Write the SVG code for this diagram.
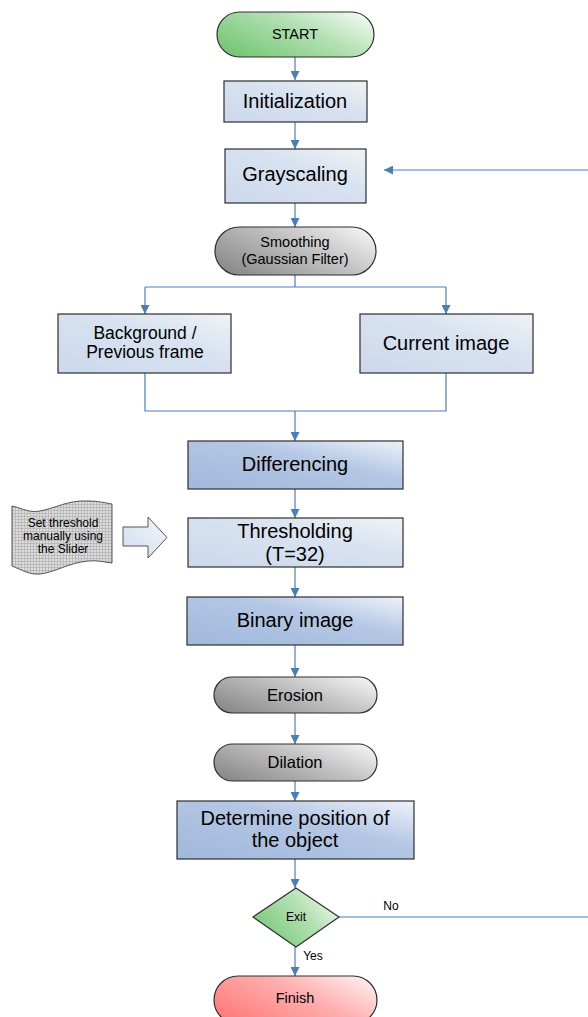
<svg xmlns="http://www.w3.org/2000/svg" width="588" height="1017" viewBox="0 0 588 1017">
<defs>
<linearGradient id="gLight" x1="0" y1="1" x2="1" y2="0">
<stop offset="0" stop-color="#ccd9ec"/><stop offset="0.6" stop-color="#d8e2f0"/><stop offset="1" stop-color="#f0f3f4"/>
</linearGradient>
<linearGradient id="gDark" x1="0" y1="1" x2="1" y2="0">
<stop offset="0" stop-color="#a0b8dc"/><stop offset="0.6" stop-color="#b4c7e4"/><stop offset="1" stop-color="#eef2fa"/>
</linearGradient>
<linearGradient id="gGray" x1="0" y1="0.8" x2="1" y2="0.2">
<stop offset="0" stop-color="#8a8a8a"/><stop offset="0.6" stop-color="#c4c4c4"/><stop offset="1" stop-color="#f0f0f0"/>
</linearGradient>
<linearGradient id="gGreen" x1="0" y1="0.8" x2="1" y2="0.2">
<stop offset="0" stop-color="#74c674"/><stop offset="0.6" stop-color="#b4e0b4"/><stop offset="1" stop-color="#eef8ee"/>
</linearGradient>
<linearGradient id="gRed" x1="0" y1="0.8" x2="1" y2="0.2">
<stop offset="0" stop-color="#ff7878"/><stop offset="0.6" stop-color="#ffb0b0"/><stop offset="1" stop-color="#ffeaea"/>
</linearGradient>
<linearGradient id="gArrow" x1="0" y1="1" x2="1" y2="0">
<stop offset="0" stop-color="#d2ddee"/><stop offset="1" stop-color="#f2f5fa"/>
</linearGradient>
<pattern id="grid" width="3" height="3" patternUnits="userSpaceOnUse">
<rect width="3" height="3" fill="#dcdcdc"/>
<path d="M0 0.5H3M0.5 0V3" stroke="#b4b4b4" stroke-width="0.8"/>
</pattern>
<marker id="arr" viewBox="0 0 10 10" refX="10" refY="5" markerWidth="9" markerHeight="9" markerUnits="userSpaceOnUse" orient="auto">
<path d="M0 0L10 5L0 10Z" fill="#4a7ebb"/>
</marker>
<style>
.box{stroke:#2e2e2e;stroke-width:1.2}
.light{fill:url(#gLight)}
.dark{fill:url(#gDark)}
.gray{fill:url(#gGray)}
.t{font-family:"Liberation Sans",Arial,sans-serif;fill:#000;text-anchor:middle;dominant-baseline:central}
.big{font-size:20px}
.mid{font-size:17.5px}
.pill{font-size:16.5px}
.sm{font-size:14.5px}
.xs{font-size:12px}
.c{fill:none;stroke:#4a7ebb;stroke-width:1.2}
</style>
</defs>

<g id="connectors">
<path class="c" d="M295 57V80" marker-end="url(#arr)"/>
<path class="c" d="M295 122V149" marker-end="url(#arr)"/>
<path class="c" d="M295 203V227" marker-end="url(#arr)"/>
<path class="c" d="M295 275V287"/>
<path class="c" d="M145 287H446"/>
<path class="c" d="M145 287V314" marker-end="url(#arr)"/>
<path class="c" d="M446 287V314" marker-end="url(#arr)"/>
<path class="c" d="M145 373V411H446V373"/>
<path class="c" d="M295 411V441" marker-end="url(#arr)"/>
<path class="c" d="M295 489V518" marker-end="url(#arr)"/>
<path class="c" d="M295 567V597" marker-end="url(#arr)"/>
<path class="c" d="M295 645V677" marker-end="url(#arr)"/>
<path class="c" d="M295 713V744" marker-end="url(#arr)"/>
<path class="c" d="M295 781V801" marker-end="url(#arr)"/>
<path class="c" d="M295 859V888" marker-end="url(#arr)"/>
<path class="c" d="M295 947V976" marker-end="url(#arr)"/>
<path class="c" d="M339 917H588"/>
<path class="c" d="M588 170H384" marker-end="url(#arr)"/>
<text class="t xs" x="391" y="906">No</text>
<text class="t xs" x="313" y="956">Yes</text>
</g>

<g id="start">
<rect class="box" x="217" y="12" width="157" height="45" rx="22.5" fill="url(#gGreen)"/>
<text class="t sm" x="295" y="34">START</text>
</g>

<g id="initialization">
<rect class="box light" x="224" y="81" width="143" height="41"/>
<text class="t big" x="295" y="101">Initialization</text>
</g>

<g id="grayscaling">
<rect class="box light" x="225" y="149" width="141" height="54"/>
<text class="t big" x="295" y="174">Grayscaling</text>
</g>

<g id="smoothing">
<rect class="box gray" x="215" y="227" width="161" height="48" rx="24"/>
<text class="t sm" x="295" y="242">Smoothing</text>
<text class="t sm" x="295" y="259">(Gaussian Filter)</text>
</g>

<g id="background">
<rect class="box light" x="58" y="314" width="173" height="59"/>
<text class="t mid" x="145" y="333">Background /</text>
<text class="t mid" x="145" y="352">Previous frame</text>
</g>

<g id="current">
<rect class="box light" x="360" y="314" width="173" height="59"/>
<text class="t big" x="446" y="343">Current image</text>
</g>

<g id="differencing">
<rect class="box dark" x="188" y="441" width="215" height="48"/>
<text class="t big" x="295" y="464">Differencing</text>
</g>

<g id="slider">
<path d="M12 506C24 509 30 513 40 511C56 508 68 500 88 501C98 501 106 503 112 504V563C104 562 96 560 88 561C68 563 56 572 40 574C30 575 22 570 12 566Z" fill="url(#grid)" stroke="#555" stroke-width="1"/>
<text class="t xs" x="63" y="523">Set threshold</text>
<text class="t xs" x="63" y="536">manually using</text>
<text class="t xs" x="63" y="549">the Slider</text>
</g>

<g id="slider-arrow">
<path d="M123 527H148V517L167 537.5L148 558V546H123Z" fill="url(#gArrow)" stroke="#555" stroke-width="1"/>
</g>

<g id="thresholding">
<rect class="box light" x="188" y="518" width="215" height="49"/>
<text class="t big" x="295" y="531">Thresholding</text>
<text class="t big" x="295" y="554">(T=32)</text>
</g>

<g id="binary">
<rect class="box dark" x="187" y="597" width="216" height="48"/>
<text class="t big" x="295" y="620">Binary image</text>
</g>

<g id="erosion">
<rect class="box gray" x="214" y="677" width="163" height="36" rx="18"/>
<text class="t pill" x="295" y="695">Erosion</text>
</g>

<g id="dilation">
<rect class="box gray" x="214" y="744" width="163" height="37" rx="18.5"/>
<text class="t pill" x="295" y="762">Dilation</text>
</g>

<g id="determine">
<rect class="box dark" x="177" y="801" width="237" height="58"/>
<text class="t big" x="295" y="818">Determine position of</text>
<text class="t big" x="295" y="840">the object</text>
</g>

<g id="exit">
<path class="box" d="M296 888L339 917L296 947L253 917Z" fill="url(#gGreen)"/>
<text class="t xs" x="296" y="917">Exit</text>
</g>

<g id="finish">
<rect class="box" x="214" y="976" width="163" height="48" rx="24" fill="url(#gRed)"/>
<text class="t sm" x="295" y="998">Finish</text>
</g>
</svg>
